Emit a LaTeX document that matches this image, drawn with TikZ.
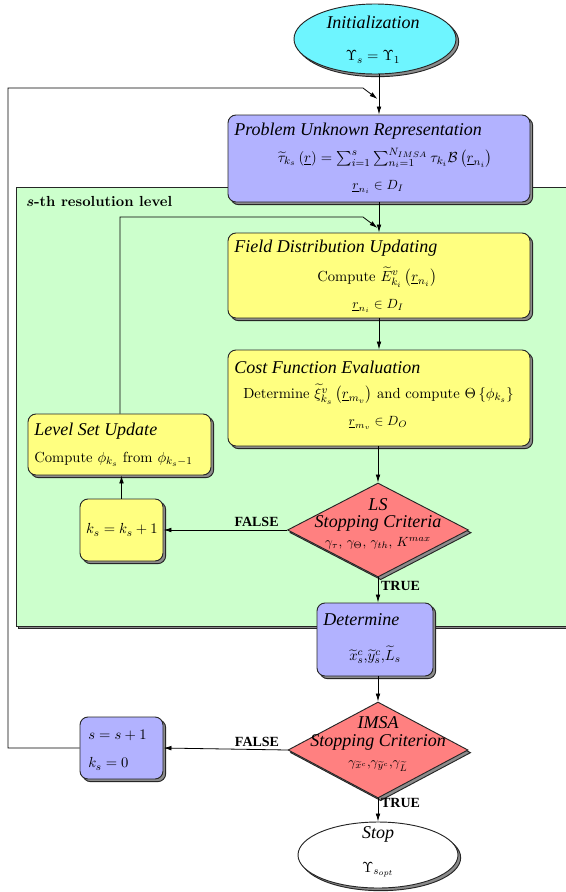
\documentclass[tikz,border=0pt]{standalone}
\usepackage{amsmath}
\usepackage{fontspec}
\newfontfamily\tim{Liberation Serif}
\usetikzlibrary{shapes.geometric,shadows,arrows.meta}
\definecolor{cyanfill}{RGB}{110,245,255}
\definecolor{lavfill}{RGB}{178,178,255}
\definecolor{yelfill}{RGB}{255,255,128}
\definecolor{redfill}{RGB}{255,128,128}
\definecolor{grnfill}{RGB}{204,255,204}
\begin{document}
\begin{tikzpicture}[x=0.75pt,y=-0.75pt,
  shad/.style={copy shadow={shadow xshift=2pt, shadow yshift=-2pt, fill=black!45, draw=black!85}},
  box/.style={rectangle, draw=black!85, line width=0.7pt, rounded corners=6pt, inner sep=0pt, shad},
  ell/.style={ellipse, draw=black!85, line width=0.7pt, inner sep=0pt, shad},
  dia/.style={diamond, draw=black!85, line width=0.7pt, inner sep=0pt, fill=redfill, shad},
  ttl/.style={font=\tim\itshape\fontsize{13.5}{16}\selectfont, inner sep=0pt},
  txt/.style={font=\fontsize{10.95}{13.6}\selectfont, inner sep=0pt},
  sml/.style={font=\fontsize{10}{12}\selectfont, inner sep=0pt},
  lbl/.style={font=\tim\bfseries\fontsize{10.5}{12}\selectfont, inner sep=0pt},
  arr/.style={-{Latex[length=6pt,width=3.5pt]}, line width=0.6pt},
  ln/.style={line width=0.6pt}]
\clip (0,0) rectangle (566,892);
\fill[white] (0,0) rectangle (566,892);

% green region
\node[rectangle, draw=black!85, line width=0.7pt, fill=grnfill, inner sep=0pt, shad,
      minimum width=564*0.75pt, minimum height=439*0.75pt] (green) at (298,406.5) {};
\node[font=\bfseries\boldmath\fontsize{10.95}{13}\selectfont, anchor=west, inner sep=0pt] (glbl) at (26,201) {$s$-th resolution level};

% nodes
\node[ell, fill=cyanfill, minimum width=162*0.75pt, minimum height=70*0.75pt] (init) at (375,39) {};
\node[ttl] (initT) at (373,22) {Initialization};
\node[txt] (initM) at (373,57) {$\Upsilon_s=\Upsilon_1$};

\node[box, fill=lavfill, minimum width=302*0.75pt, minimum height=87*0.75pt] (prob) at (379,158.5) {};
\node[ttl, anchor=west] (probT) at (234,131) {Problem Unknown Representation};
\node[txt] (probM) at (385,158) {$\widetilde{\tau}_{k_s}\left(\underline{r}\right)=\sum_{i=1}^{s}\sum_{n_i=1}^{N_{IMSA}}\tau_{k_i}\mathcal{B}\left(\underline{r}_{n_i}\right)$};
\node[sml] (probD) at (378,187) {$\underline{r}_{n_i}\in D_I$};

\node[box, fill=yelfill, minimum width=302*0.75pt, minimum height=85*0.75pt] (field) at (379,275.5) {};
\node[ttl, anchor=west] (fieldT) at (234,248) {Field Distribution Updating};
\node[txt] (fieldM) at (377,277) {Compute $\widetilde{E}^{v}_{k_i}\left(\underline{r}_{n_i}\right)$};
\node[sml] (fieldD) at (378,306) {$\underline{r}_{n_i}\in D_I$};

\node[box, fill=yelfill, minimum width=302*0.75pt, minimum height=96*0.75pt] (cost) at (379,398) {};
\node[ttl, anchor=west] (costT) at (234,367) {Cost Function Evaluation};
\node[txt] (costM) at (378.5,394) {Determine $\widetilde{\xi}^{v}_{k_s}\left(\underline{r}_{m_v}\right)$ and compute $\Theta\left\{\phi_{k_s}\right\}$};
\node[sml] (costD) at (378,423) {$\underline{r}_{m_v}\in D_O$};

\node[box, fill=yelfill, minimum width=183*0.75pt, minimum height=61*0.75pt] (level) at (119.5,444.5) {};
\node[ttl, anchor=west] (levelT) at (34,431) {Level Set Update};
\node[txt, anchor=west] (levelM) at (34,459) {Compute $\phi_{k_s}$ from $\phi_{k_s-1}$};

\node[dia, minimum width=181*0.75pt, minimum height=94*0.75pt] (ls) at (378,530) {};
\node[ttl] (lsT1) at (378,505) {LS};
\node[ttl] (lsT2) at (378,523) {Stopping Criteria};
\node[sml] (lsM) at (378,543) {$\gamma_\tau$, $\gamma_\Theta$, $\gamma_{th}$, $K^{max}$};

\node[box, fill=yelfill, minimum width=83*0.75pt, minimum height=62*0.75pt] (ks) at (121.5,530) {};
\node[txt] (ksM) at (122,530) {$k_s=k_s+1$};

\node[box, fill=lavfill, minimum width=116*0.75pt, minimum height=73*0.75pt] (det) at (375,639.5) {};
\node[ttl, anchor=west] (detT) at (323,620) {Determine};
\node[txt] (detM) at (375,655) {$\widetilde{x}^c_s$,$\widetilde{y}^c_s$,$\widetilde{L}_s$};

\node[dia, minimum width=180*0.75pt, minimum height=96*0.75pt] (imsa) at (378,750) {};
\node[ttl] (imsaT1) at (378,723) {IMSA};
\node[ttl] (imsaT2) at (378,742) {Stopping Criterion};
\node[sml] (imsaM) at (378,766) {$\gamma_{\widetilde{x}^c}$,$\gamma_{\widetilde{y}^c}$,$\gamma_{\widetilde{L}}$};

\node[box, fill=lavfill, minimum width=83*0.75pt, minimum height=62*0.75pt] (sbox) at (121.5,748) {};
\node[txt, anchor=west] (sM1) at (88,735) {$s=s+1$};
\node[txt, anchor=west] (sM2) at (88,764) {$k_s=0$};

\node[ell, fill=white, minimum width=160*0.75pt, minimum height=66*0.75pt] (stop) at (378,855) {};
\node[ttl] (stopT) at (378,834) {Stop};
\node[txt] (stopM) at (378,870) {$\Upsilon_{s_{opt}}$};

% connectors
\coordinate (fbA) at (8,88);
\coordinate (fbB) at (363,88);
\coordinate (fbC) at (377.5,99);
\coordinate (lbA) at (120,217);
\coordinate (lbB) at (363,217);
\coordinate (lbC) at (377.5,228);

\draw[arr] (init.south -| prob.north) -- (prob.north);
\draw[arr] (sbox.west) -| (fbA) -- (fbB) -- (fbC);
\draw[arr] (prob.south) -- (field.north);
\draw[arr] (field.south) -- (cost.north);
\draw[arr] (cost.south -| ls.north) -- (ls.north);
\draw[arr] (ls.west) -- node[lbl, anchor=south east, pos=0.065, yshift=2pt] (f1) {FALSE} (ks.east);
\draw[arr] (ks.north) -- (ks.north |- level.south);
\draw[arr] (level.north -| lbA) -- (lbA) -- (lbB) -- (lbC);
\draw[arr] (ls.south) -- node[lbl, right=2pt, pos=0.35] (t1) {TRUE} (ls.south |- det.north);
\draw[arr] (det.south -| imsa.north) -- (imsa.north);
\draw[arr] (imsa.west) -- node[lbl, anchor=south east, pos=0.065, yshift=2pt] (f2) {FALSE} (sbox.east);
\draw[arr] (imsa.south) -- node[lbl, right=2pt, pos=0.2] (t2) {TRUE} (stop.north);
\end{tikzpicture}
\end{document}
